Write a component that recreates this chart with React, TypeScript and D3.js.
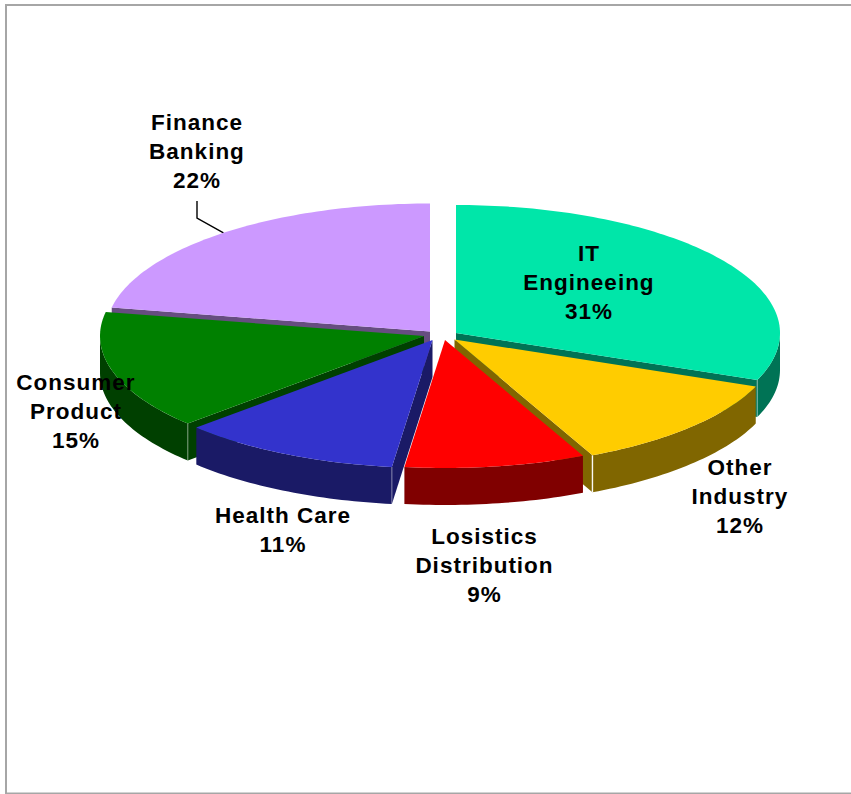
import React from "react";
import * as d3 from "d3";

const categories = ["IT Engineeing", "Other Industry", "Losistics Distribution", "Health Care", "Consumer Product", "Finance Banking"];
const values = [31, 12, 9, 11, 15, 22];
const colors = ["#00E6A9", "#FFCC00", "#FF0000", "#3333CC", "#008000", "#CC99FF"];
const explodeX = [16, 14.5, 5, -7.5, -16, -10];
const explodeY = [-4, 2.5, 3, 3, -1, -5.5];
const drawOrder = ["Finance Banking", "IT Engineeing", "Consumer Product", "Other Industry", "Health Care", "Losistics Distribution"];

const labelLines = [
  ["IT", "Engineeing", "31%"],
  ["Other", "Industry", "12%"],
  ["Losistics", "Distribution", "9%"],
  ["Health Care", "11%"],
  ["Consumer", "Product", "15%"],
  ["Finance", "Banking", "22%"],
];
const labelPos = [
  { x: 589, y: 261 },
  { x: 740, y: 475 },
  { x: 484.5, y: 544 },
  { x: 283, y: 523 },
  { x: 76, y: 390 },
  { x: 197, y: 130 },
];
const lineHeight = 29.2;

const W = 851, H = 794;
const cx = 440, cy = 337, rx = 324, ry = 128, depth = 37;

type P = [number, number];
const pie = d3.pie<number>().sort(null).value((d) => d).startAngle(0).endAngle(2 * Math.PI);
const arcs = pie(values);
const linePath = d3.line<P>().x((d) => d[0]).y((d) => d[1]);

function sampleAngles(a0: number, a1: number): number[] {
  const n = Math.max(2, Math.ceil(Math.abs(a1 - a0) / 0.02));
  return d3.range(n + 1).map((i) => a0 + ((a1 - a0) * i) / n);
}

export default function App() {
  const slices = arcs.map((arc, i) => {
    const mid = (arc.startAngle + arc.endAngle) / 2;
    const ax = cx + explodeX[i];
    const ay = cy + explodeY[i];
    const pt = (a: number, dz = 0): P => [ax + rx * Math.sin(a), ay - ry * Math.cos(a) + dz];
    const top: P[] = [[ax, ay], ...sampleAngles(arc.startAngle, arc.endAngle).map((a) => pt(a))];
    const fs = Math.max(arc.startAngle, Math.PI / 2);
    const fe = Math.min(arc.endAngle, (3 * Math.PI) / 2);
    let rim: P[] | null = null;
    if (fe > fs) {
      const samples = sampleAngles(fs, fe);
      rim = [...samples.map((a) => pt(a)), ...samples.slice().reverse().map((a) => pt(a, depth))];
    }
    const wall = (a: number): P[] => [[ax, ay], pt(a), pt(a, depth), [ax, ay + depth]];
    const walls: P[][] = [];
    const corners: P[][] = [];
    if (Math.sin(arc.startAngle) < -1e-6) {
      walls.push(wall(arc.startAngle));
      if (fe > fs) corners.push([pt(arc.startAngle), pt(arc.startAngle, depth)]);
    }
    if (Math.sin(arc.endAngle) > 1e-6) {
      walls.push(wall(arc.endAngle));
      corners.push([pt(arc.endAngle), pt(arc.endAngle, depth)]);
    }
    const dark = d3.interpolateRgb(colors[i], "#000")(0.5);
    return { name: categories[i], color: colors[i], dark, top, rim, walls, corners, pt, mid };
  });
  const finance = slices[5];
  const leader: P[] = [finance.pt(finance.mid), [197, 218], [197, 201]];
  const ordered = drawOrder.map((n) => slices.find((s) => s.name === n)!);

  return (
    <svg width={W} height={H} style={{ position: "absolute", left: 0, top: 0, background: "#fff" }}>
      <rect x={6} y={5} width={870} height={788.5} fill="#fff" stroke="#a6a6a6" strokeWidth={2} />
      <path d={linePath(leader)!} fill="none" stroke="#000" strokeWidth={1.4} />
      {ordered.map((s) => (
        <g key={s.name}>
          {s.walls.map((w, j) => (
            <path key={j} d={linePath(w)! + "Z"} fill={s.dark} />
          ))}
          {s.rim && <path d={linePath(s.rim)! + "Z"} fill={s.dark} />}
          {s.corners.map((c, j) => (
            <path key={j} d={linePath(c)!} stroke="#fff" strokeOpacity={s.name === "Other Industry" ? 0.95 : 0.3} strokeWidth={1.4} fill="none" />
          ))}
          <path d={linePath(s.top)! + "Z"} fill={s.color} />
        </g>
      ))}
      {labelLines.map((lines, i) => (
        <text
          key={i}
          textAnchor="middle"
          fontFamily="'Liberation Sans', Arial, sans-serif"
          fontWeight={700}
          fontSize={22.5}
          letterSpacing={1}
          fill="#000"
        >
          {lines.map((t, j) => (
            <tspan key={j} x={labelPos[i].x} y={labelPos[i].y + j * lineHeight}>
              {t}
            </tspan>
          ))}
        </text>
      ))}
    </svg>
  );
}
